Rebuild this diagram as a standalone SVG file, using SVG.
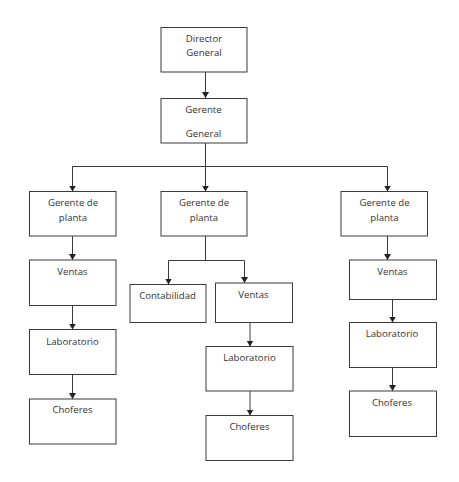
<svg xmlns="http://www.w3.org/2000/svg" width="459" height="482" viewBox="0 0 459 482">
<style>
.b{fill:#fff;stroke:#3a3a3a;stroke-width:1}
.t{font-family:"Open Sans","Liberation Sans",sans-serif;font-size:9.6px;fill:#333;text-anchor:middle;dominant-baseline:central}
.c{fill:none;stroke:#3a3a3a;stroke-width:1}
</style>
<defs>
<marker id="ah" viewBox="0 0 6 7" refX="6" refY="3.5" markerWidth="6" markerHeight="7" markerUnits="userSpaceOnUse" orient="auto">
<path d="M0,0 L6,3.5 L0,7 Z" fill="#222"/>
</marker>
</defs>
<rect width="459" height="482" fill="#fff"/>
<g id="connectors">
<path class="c" d="M205.5,72 V98" marker-end="url(#ah)"/>
<path class="c" d="M205.5,143 V166.5"/>
<path class="c" d="M72.5,191.5 V166.5 H387.5 V191.5" marker-end="url(#ah)"/>
<path class="c" d="M72.5,166.5 V191.5" marker-end="url(#ah)"/>
<path class="c" d="M205.5,160 V191.5" marker-end="url(#ah)"/>
<path class="c" d="M72.5,236 V260" marker-end="url(#ah)"/>
<path class="c" d="M72.5,305.5 V329.5" marker-end="url(#ah)"/>
<path class="c" d="M72.5,374.5 V399" marker-end="url(#ah)"/>
<path class="c" d="M205.5,236 V260.5"/>
<path class="c" d="M168.5,284.5 V260.5 H244.5 V283" marker-end="url(#ah)"/>
<path class="c" d="M168.5,270 V284.5" marker-end="url(#ah)"/>
<path class="c" d="M250,322.5 V346.5" marker-end="url(#ah)"/>
<path class="c" d="M250,391 V415.5" marker-end="url(#ah)"/>
<path class="c" d="M387.5,236 V260" marker-end="url(#ah)"/>
<path class="c" d="M392.5,299.5 V322.5" marker-end="url(#ah)"/>
<path class="c" d="M392.5,367.5 V391" marker-end="url(#ah)"/>
</g>
<g id="director"><rect class="b" x="161" y="27.5" width="86" height="44.5"/><text class="t" x="204" y="38.5">Director</text><text class="t" x="204" y="52.5">General</text></g>
<g id="gerente-general"><rect class="b" x="161" y="98.5" width="86" height="44.5"/><text class="t" x="203.5" y="109.5">Gerente</text><text class="t" x="203.5" y="133.5">General</text></g>
<g id="gp1"><rect class="b" x="29.5" y="191.5" width="86.5" height="44.5"/><text class="t" x="73" y="202.5">Gerente de</text><text class="t" x="73" y="217.5">planta</text></g>
<g id="gp2"><rect class="b" x="161" y="191.5" width="86" height="44.5"/><text class="t" x="204" y="202.5">Gerente de</text><text class="t" x="204" y="217.5">planta</text></g>
<g id="gp3"><rect class="b" x="341" y="191.5" width="86.5" height="44.5"/><text class="t" x="384.5" y="202.5">Gerente de</text><text class="t" x="384.5" y="217.5">planta</text></g>
<g id="ventas1"><rect class="b" x="29.5" y="260" width="86.5" height="45.5"/><text class="t" x="72.5" y="271.5">Ventas</text></g>
<g id="lab1"><rect class="b" x="29.5" y="329.5" width="86.5" height="45"/><text class="t" x="72.5" y="341">Laboratorio</text></g>
<g id="chof1"><rect class="b" x="29.5" y="399" width="86.5" height="45"/><text class="t" x="72.5" y="409.5">Choferes</text></g>
<g id="contabilidad"><rect class="b" x="130" y="284.5" width="76" height="38"/><text class="t" x="167.5" y="295.5">Contabilidad</text></g>
<g id="ventas2"><rect class="b" x="215.5" y="283" width="77" height="39.5"/><text class="t" x="253.5" y="294.5">Ventas</text></g>
<g id="lab2"><rect class="b" x="206" y="346.5" width="87" height="44.5"/><text class="t" x="249.5" y="357.5">Laboratorio</text></g>
<g id="chof2"><rect class="b" x="206" y="415.5" width="87" height="45"/><text class="t" x="249.5" y="426.5">Choferes</text></g>
<g id="ventas3"><rect class="b" x="349.5" y="260" width="87" height="39.5"/><text class="t" x="392.5" y="271.5">Ventas</text></g>
<g id="lab3"><rect class="b" x="349.5" y="322.5" width="87" height="45"/><text class="t" x="392" y="333.5">Laboratorio</text></g>
<g id="chof3"><rect class="b" x="349.5" y="391" width="87" height="45.5"/><text class="t" x="392" y="402">Choferes</text></g>
</svg>
